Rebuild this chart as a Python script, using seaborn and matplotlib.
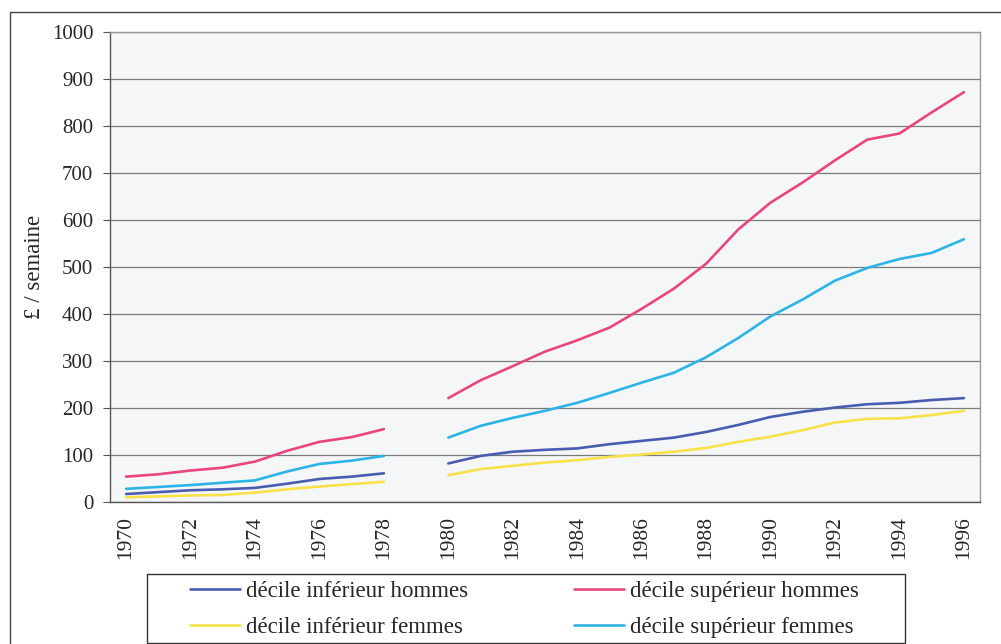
import numpy as np
import pandas as pd
import matplotlib
matplotlib.use("Agg")
import matplotlib.pyplot as plt
from matplotlib.patches import Rectangle
import seaborn as sns

years = list(range(1970, 1997))
inf_hommes = [17, 21, 25, 27, 30, 39, 49, 54, 61, np.nan,
              82, 98, 107, 111, 114, 123, 130, 137, 149, 164, 181, 192, 201, 208, 211, 217, 221]
sup_hommes = [54, 59, 67, 73, 86, 109, 128, 138, 155, np.nan,
              221, 259, 289, 320, 344, 371, 411, 454, 507, 580, 637, 680, 727, 771, 784, 829, 872]
inf_femmes = [10, 12, 14, 15, 20, 27, 33, 38, 43, np.nan,
              57, 70, 77, 84, 89, 96, 101, 107, 115, 128, 139, 153, 169, 177, 178, 185, 194]
sup_femmes = [28, 32, 36, 41, 46, 65, 81, 88, 98, np.nan,
              137, 162, 179, 194, 211, 232, 254, 275, 308, 349, 395, 431, 471, 498, 517, 530, 559]
series_names = ["décile inférieur hommes", "décile inférieur femmes",
                "décile supérieur hommes", "décile supérieur femmes"]
colors = ["#4a5cb0", "#f7e24a", "#e8467c", "#2db4e6"]
ytick_values = list(range(0, 1001, 100))
xtick_labels = [str(y) for y in range(1970, 1997, 2)]

rows = []
for name, vals in zip(series_names, [inf_hommes, inf_femmes, sup_hommes, sup_femmes]):
    for i, (yr, v) in enumerate(zip(years, vals)):
        if not np.isnan(v):
            rows.append({"idx": i, "year": yr, "value": v, "série": name,
                         "période": 0 if yr < 1979 else 1})
df = pd.DataFrame(rows)

sns.set_style("white")
serif = ["Liberation Serif", "DejaVu Serif"]
plt.rcParams["font.family"] = serif

fig = plt.figure(figsize=(10.01, 6.44), dpi=100)
ax = fig.add_axes([110/1001, (644-502)/644, 870/1001, 470/644])
ax.set_facecolor("#f4f6f7")

sns.lineplot(data=df, x="idx", y="value", hue="série", units="période",
             estimator=None, palette=dict(zip(series_names, colors)),
             hue_order=series_names, linewidth=1.9, ax=ax, legend=True)

ax.set_xlim(-0.5, len(years) - 0.5)
ax.set_ylim(0, 1000)
ax.set_yticks(ytick_values)
ax.set_yticklabels([str(v) for v in ytick_values], fontsize=15)
ax.yaxis.grid(True, color="#7a7a7a", linewidth=0.9)
ax.set_axisbelow(True)

label_pos = [years.index(int(t)) for t in xtick_labels]
ax.set_xticks(label_pos)
ax.set_xticklabels(xtick_labels, rotation=90, fontsize=15.5)
ax.tick_params(axis="x", length=0, pad=10)
ax.set_xticks(np.arange(-0.5, len(years), 1.0), minor=True)
ax.tick_params(axis="x", which="minor", length=5, color="#555555", direction="out")
ax.tick_params(axis="y", length=5, color="#555555", direction="out", pad=7, left=True)

ax.set_xlabel("")
ax.set_ylabel("£ / semaine", fontsize=16.5, labelpad=5)

for s in ["top", "right"]:
    ax.spines[s].set_color("#9a9a9a")
    ax.spines[s].set_linewidth(1.0)
for s in ["left", "bottom"]:
    ax.spines[s].set_color("#555555")
    ax.spines[s].set_linewidth(1.0)

handles, labels = ax.get_legend_handles_labels()
ax.get_legend().remove()
hmap = dict(zip(labels, handles))

def column_legend(names, x_px):
    leg = fig.legend([hmap[n] for n in names], names, loc="center left",
                     bbox_to_anchor=(x_px/1001, (644-609.5)/644),
                     bbox_transform=fig.transFigure, frameon=False,
                     fontsize=16.5, handlelength=2.2, handletextpad=0.25,
                     borderpad=0, labelspacing=0.65, borderaxespad=0)
    for h in leg.get_lines():
        h.set_linewidth(1.9)
    return leg

leg1 = column_legend(["décile inférieur hommes", "décile inférieur femmes"], 190)
leg2 = column_legend(["décile supérieur hommes", "décile supérieur femmes"], 574)

fig.patches.append(Rectangle((147/1001, 1/644), 758/1001, 69/644,
                             transform=fig.transFigure, fill=False,
                             edgecolor="#333333", linewidth=1.0))
fig.patches.append(Rectangle((10/1001, -0.05), 1.2, (644-12)/644 + 0.05,
                             transform=fig.transFigure, fill=False,
                             edgecolor="#444444", linewidth=1.0))

fig.savefig("out.png", dpi=100)
